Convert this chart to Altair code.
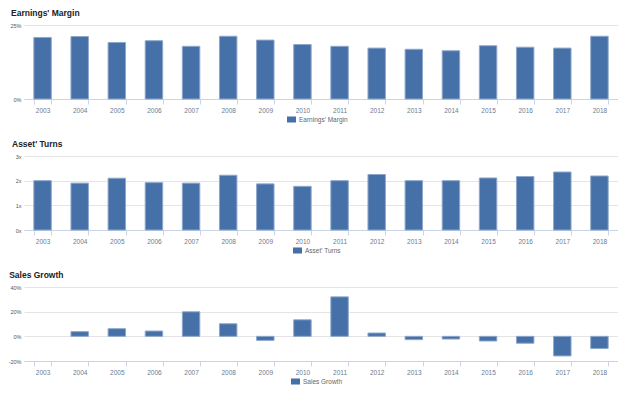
import altair as alt
import pandas as pd

years = [str(y) for y in range(2003, 2019)]
earnings_margin = [20.8, 21.1, 19.1, 19.7, 17.8, 21.2, 19.9, 18.4, 17.8, 17.2, 16.8, 16.3, 18.0, 17.5, 17.2, 21.2]
asset_turns = [2.0, 1.9, 2.1, 1.92, 1.9, 2.22, 1.87, 1.77, 2.0, 2.25, 2.0, 2.0, 2.11, 2.17, 2.35, 2.19]
sales_growth = [None, 3.8, 6.2, 4.3, 19.9, 10.2, -3.3, 13.4, 32.0, 2.7, -2.7, -2.2, -3.8, -5.6, -15.9, -9.9]

BAR = "#4670a8"
STROKE = "#8ea8cc"
W, H = 594, 74
FONT = "Liberation Sans"


def panel(title, values, name, domain, ticks, suffix, legend_x):
    df = pd.DataFrame({"year": years, "value": values, "series": name})
    return alt.Chart(df, title=alt.Title(title, anchor="start", fontSize=8.5, font=FONT,
                                          fontWeight="bold", color="#222222", offset=6, dx=1)).mark_bar(
        stroke=STROKE, strokeWidth=1
    ).encode(
        x=alt.X("year:N", sort=years, title=None,
                scale=alt.Scale(paddingInner=0.53, paddingOuter=0.265),
                axis=alt.Axis(labelAngle=0, tickBand="extent", tickSize=5, tickColor="#c9d5e6",
                              domainColor="#c9d5e6", labelColor="#6b7a92", labelFontSize=6.5,
                              labelFont=FONT, labelPadding=3, grid=False)),
        y=alt.Y("value:Q", title=None, scale=alt.Scale(domain=domain, nice=False),
                axis=alt.Axis(values=ticks, labelExpr="datum.value + '" + suffix + "'",
                              domain=False, ticks=False, grid=True, gridColor="#e4e4e4",
                              labelColor="#555555", labelFontSize=5.5, labelFont=FONT,
                              labelPadding=3, minExtent=13, maxExtent=13)),
        color=alt.Color("series:N", scale=alt.Scale(range=[BAR]),
                        legend=alt.Legend(title=None, orient="none", legendX=legend_x, legendY=90,
                                          symbolType="M-1,-0.67H1V0.67H-1Z", symbolSize=81,
                                          symbolStrokeWidth=0, labelFontSize=6.5, labelFont=FONT,
                                          labelColor="#666666", padding=0, labelOffset=3)),
    ).properties(width=W, height=H)


p1 = panel("Earnings' Margin", earnings_margin, "Earnings' Margin", [0, 25], [0, 25], "%", 263)
p2 = panel("Asset' Turns", asset_turns, "Asset' Turns", [0, 3], [0, 1, 2, 3], "x", 269)
p3 = panel("Sales Growth", sales_growth, "Sales Growth", [-20, 40], [-20, 0, 20, 40], "%", 267)

chart = alt.vconcat(p1, p2, p3, spacing=16).resolve_scale(color="independent").properties(
    padding={"left": 0, "top": 0, "right": 0, "bottom": 0}
).configure_view(stroke=None)

chart.save("out.html", embed_options={"renderer": "svg", "actions": False})
